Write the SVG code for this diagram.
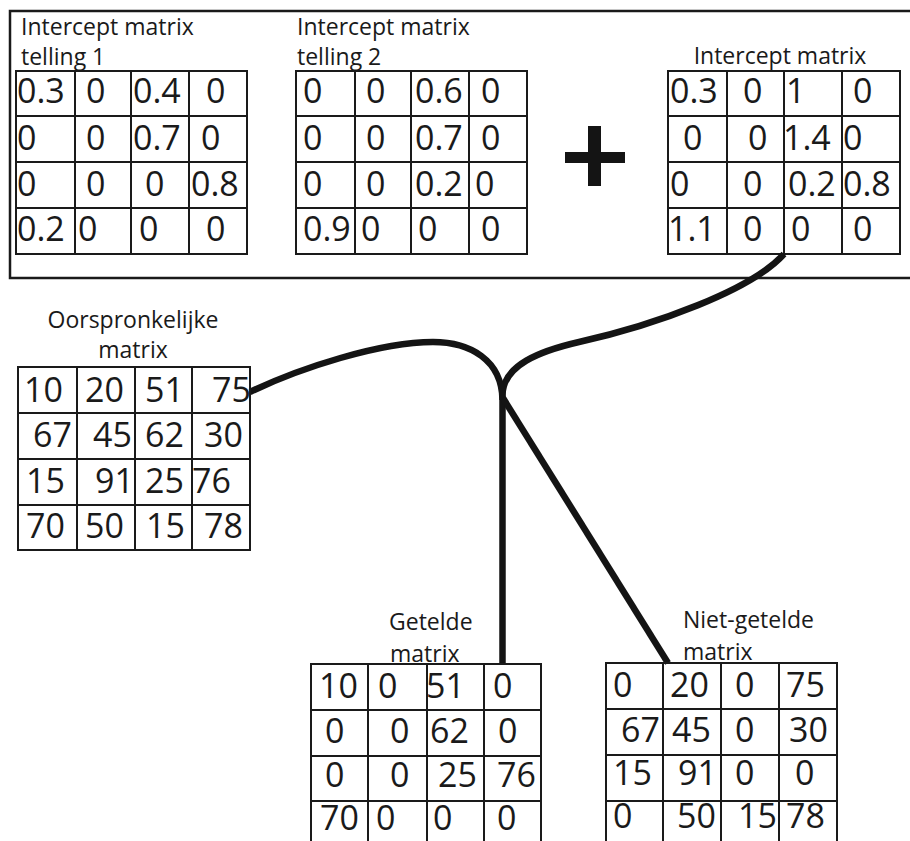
<svg xmlns="http://www.w3.org/2000/svg" width="910" height="841" viewBox="0 0 910 841">
  <style>
    .grid { fill: none; stroke: #1a1a1a; stroke-width: 2; }
    .frame { fill: none; stroke: #1a1a1a; stroke-width: 2.5; }
    .lbl { font-family: "Open Sans", "Liberation Sans", sans-serif; font-size: 23px; fill: #1a1a1a; }
    .lbl-c { font-family: "Open Sans", "Liberation Sans", sans-serif; font-size: 23px; fill: #1a1a1a; text-anchor: middle; }
    .num { font-family: "Open Sans", "Liberation Sans", sans-serif; font-size: 34px; fill: #1a1a1a; }
    .wire { fill: none; stroke: #141414; stroke-width: 6.5; stroke-linecap: butt; stroke-linejoin: round; }
  </style>

  <rect width="910" height="841" fill="#ffffff"/>

  <!-- frame around the intercept matrices (open on the right) -->
  <path class="frame" d="M 915 11 H 10 V 278 H 915"/>

  <!-- intercept matrix, count 1 -->
  <g id="intercept-telling-1">
    <text class="lbl" x="21" y="35">Intercept matrix</text>
    <text class="lbl" x="21" y="65">telling 1</text>
    <path class="grid" d="M16 71 H247 V254 H16 Z M75 71 V254 M131 71 V254 M189 71 V254 M16 116 H247 M16 162 H247 M16 208 H247"/>
    <g class="num">
      <text x="17" y="103">0.3</text><text x="86" y="103">0</text><text x="133" y="103">0.4</text><text x="206" y="103">0</text>
      <text x="17" y="150">0</text><text x="86" y="150">0</text><text x="133" y="150">0.7</text><text x="201" y="150">0</text>
      <text x="17" y="196">0</text><text x="86" y="196">0</text><text x="145" y="196">0</text><text x="191" y="196">0.8</text>
      <text x="17" y="241">0.2</text><text x="78" y="241">0</text><text x="139" y="241">0</text><text x="206" y="241">0</text>
    </g>
  </g>

  <!-- intercept matrix, count 2 -->
  <g id="intercept-telling-2">
    <text class="lbl" x="297" y="35">Intercept matrix</text>
    <text class="lbl" x="297" y="65">telling 2</text>
    <path class="grid" d="M296 71 H527 V254 H296 Z M355 71 V254 M411 71 V254 M469 71 V254 M296 116 H527 M296 162 H527 M296 208 H527"/>
    <g class="num">
      <text x="303" y="103">0</text><text x="366" y="103">0</text><text x="415" y="103">0.6</text><text x="481" y="103">0</text>
      <text x="303" y="150">0</text><text x="366" y="150">0</text><text x="415" y="150">0.7</text><text x="481" y="150">0</text>
      <text x="303" y="196">0</text><text x="366" y="196">0</text><text x="415" y="196">0.2</text><text x="475" y="196">0</text>
      <text x="303" y="241">0.9</text><text x="361" y="241">0</text><text x="418" y="241">0</text><text x="481" y="241">0</text>
    </g>
  </g>

  <!-- plus operator -->
  <g id="plus" fill="#141414">
    <rect x="565" y="152" width="60" height="11"/>
    <rect x="588" y="126" width="13" height="60"/>
  </g>

  <!-- summed intercept matrix -->
  <g id="intercept-sum">
    <text class="lbl-c" x="780" y="64">Intercept matrix</text>
    <path class="grid" d="M668 71 H900 V254 H668 Z M727 71 V254 M784 71 V254 M842 71 V254 M668 116 H900 M668 162 H900 M668 208 H900"/>
    <g class="num">
      <text x="670" y="103">0.3</text><text x="743" y="103">0</text><text x="786" y="103">1</text><text x="853" y="103">0</text>
      <text x="683" y="150">0</text><text x="748" y="150">0</text><text x="783" y="150">1.4</text><text x="843" y="150">0</text>
      <text x="670" y="196">0</text><text x="743" y="196">0</text><text x="788" y="196">0.2</text><text x="843" y="196">0.8</text>
      <text x="668" y="241">1.1</text><text x="743" y="241">0</text><text x="791" y="241">0</text><text x="853" y="241">0</text>
    </g>
  </g>

  <!-- connectors -->
  <g id="connectors">
    <path class="wire" d="M 784 254 C 752 290, 655 325, 579 342 C 540 351, 503 365, 502.5 395 L 502.5 664"/>
    <path class="wire" d="M 250 392 C 300 368, 380 342, 433 342 C 470 342, 502 360, 502.5 400"/>
    <path class="wire" d="M 503 398 L 668 663"/>
  </g>

  <!-- original matrix -->
  <g id="oorspronkelijke-matrix">
    <text class="lbl-c" x="133" y="328">Oorspronkelijke</text>
    <text class="lbl-c" x="133" y="358">matrix</text>
    <path class="grid" d="M18 367 H250 V550 H18 Z M77 367 V550 M135 367 V550 M192 367 V550 M18 413 H250 M18 459 H250 M18 505 H250"/>
    <g class="num">
      <text x="24" y="402">10</text><text x="85" y="402">20</text><text x="145" y="402">51</text><text x="212" y="402">75</text>
      <text x="33" y="447">67</text><text x="93" y="447">45</text><text x="145" y="447">62</text><text x="204" y="447">30</text>
      <text x="26" y="493">15</text><text x="95" y="493">91</text><text x="145" y="493">25</text><text x="192" y="493">76</text>
      <text x="26" y="538">70</text><text x="85" y="538">50</text><text x="146" y="538">15</text><text x="204" y="538">78</text>
    </g>
  </g>

  <!-- counted matrix -->
  <g id="getelde-matrix">
    <text class="lbl" x="389" y="630">Getelde</text>
    <text class="lbl" x="390" y="662">matrix</text>
    <path class="grid" d="M311 850 V664 H541 V850 M368 664 V850 M427 664 V850 M484 664 V850 M311 710 H541 M311 756 H541 M311 801 H541"/>
    <g class="num">
      <text x="319" y="698">10</text><text x="378" y="698">0</text><text x="426" y="698">51</text><text x="493" y="698">0</text>
      <text x="325" y="743">0</text><text x="390" y="743">0</text><text x="430" y="743">62</text><text x="498" y="743">0</text>
      <text x="325" y="787">0</text><text x="390" y="787">0</text><text x="438" y="787">25</text><text x="497" y="787">76</text>
      <text x="320" y="830">70</text><text x="376" y="830">0</text><text x="433" y="830">0</text><text x="497" y="830">0</text>
    </g>
  </g>

  <!-- uncounted matrix -->
  <g id="niet-getelde-matrix">
    <text class="lbl" x="683" y="628">Niet-getelde</text>
    <text class="lbl" x="683" y="660">matrix</text>
    <path class="grid" d="M606 850 V663 H837 V850 M663 663 V850 M721 663 V850 M779 663 V850 M606 709 H837 M606 755 H837 M606 801 H837"/>
    <g class="num">
      <text x="613" y="697">0</text><text x="670" y="697">20</text><text x="735" y="697">0</text><text x="786" y="697">75</text>
      <text x="621" y="742">67</text><text x="672" y="742">45</text><text x="735" y="742">0</text><text x="789" y="742">30</text>
      <text x="613" y="785">15</text><text x="678" y="785">91</text><text x="735" y="785">0</text><text x="795" y="785">0</text>
      <text x="613" y="828">0</text><text x="677" y="828">50</text><text x="738" y="828">15</text><text x="786" y="828">78</text>
    </g>
  </g>
</svg>
